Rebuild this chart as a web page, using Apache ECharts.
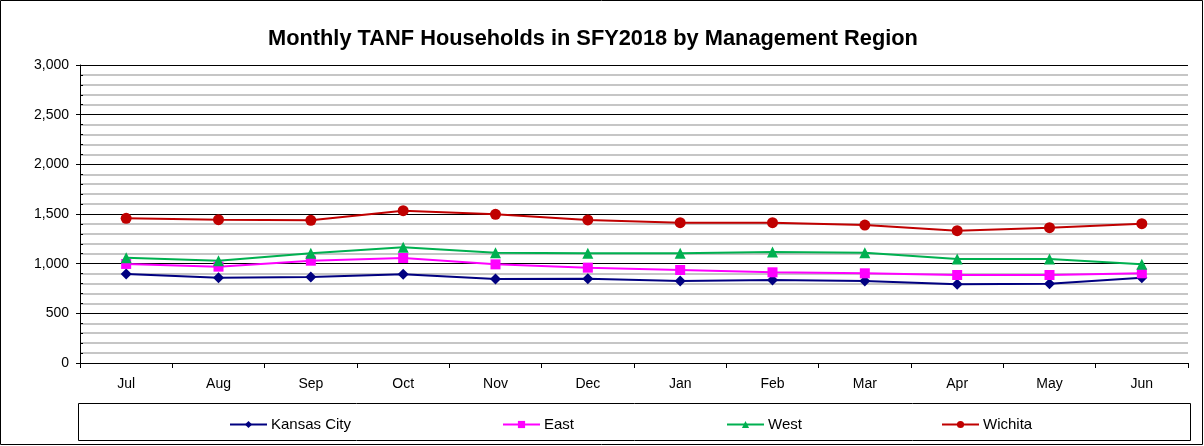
<!DOCTYPE html>
<html>
<head>
<meta charset="utf-8">
<script src="https://cdn.jsdelivr.net/npm/echarts@6/dist/echarts.min.js"></script>
<style>
  html, body { margin: 0; padding: 0; background: #fff; }
  #chart { width: 1204px; height: 446px; }
</style>
</head>
<body>
<div id="chart"></div>
<script>
const months = ["Jul", "Aug", "Sep", "Oct", "Nov", "Dec", "Jan", "Feb", "Mar", "Apr", "May", "Jun"];
const kansasCity = [896, 859, 866, 893, 846, 849, 826, 836, 826, 792, 799, 859];
const east = [997, 970, 1030, 1057, 993, 960, 936, 913, 903, 886, 886, 903];
const west = [1060, 1030, 1104, 1165, 1110, 1104, 1104, 1117, 1110, 1047, 1047, 993];
const wichita = [1456, 1443, 1436, 1533, 1497, 1440, 1413, 1413, 1389, 1332, 1362, 1402];

const chart = echarts.init(document.getElementById("chart"));
const font = "Liberation Sans, Arial, sans-serif";

function makeSeries(name, data, color, symbol, size) {
    return {
        name: name,
        type: "line",
        data: data,
        symbol: symbol,
        symbolSize: size,
        lineStyle: { color: color, width: 2 },
        itemStyle: { color: color },
        animation: false
    };
}

function makeLegend(name, left) {
    return {
        data: [name],
        left: left,
        top: 412,
        itemWidth: 37,
        itemHeight: 9,
        itemGap: 4,
        textStyle: { fontFamily: font, fontSize: 15, color: "#000", padding: [0, 0, 0, -1] }
    };
}

const option = {
    animation: false,
    title: {
        text: "Monthly TANF Households in SFY2018 by Management Region",
        left: 263,
        top: 23,
        textStyle: { fontFamily: font, fontSize: 21.8, fontWeight: "bold", color: "#000" }
    },
    graphic: [
        { type: "rect", shape: { x: 0.5, y: 0.5, width: 1202, height: 444 },
          style: { fill: null, stroke: "#000", lineWidth: 1 } },
        { type: "rect", shape: { x: 78.5, y: 403.5, width: 1112, height: 37 },
          style: { fill: null, stroke: "#000", lineWidth: 1 } }
    ],
    legend: [
        makeLegend("Kansas City", 224),
        makeLegend("East", 497),
        makeLegend("West", 721),
        makeLegend("Wichita", 936)
    ],
    grid: { left: 80, right: 16, top: 65, bottom: 83 },
    xAxis: {
        type: "category",
        data: months,
        boundaryGap: true,
        axisLine: { lineStyle: { color: "#000" } },
        axisTick: { show: true, length: 5, lineStyle: { color: "#000" } },
        axisLabel: { fontFamily: font, fontSize: 14, color: "#000", margin: 14 }
    },
    yAxis: [
        {
            type: "value",
            min: 0,
            max: 3000,
            interval: 500,
            axisLine: { show: true, lineStyle: { color: "#000" } },
            axisTick: { show: true, length: 4, lineStyle: { color: "#000" } },
            splitLine: { lineStyle: { color: "#000", width: 1 } },
            minorTick: { show: false, splitNumber: 5 },
            minorSplitLine: { show: true, lineStyle: { color: "#b4b4b4", width: 1.5 } },
            axisLabel: {
                fontFamily: font, fontSize: 14, color: "#000", margin: 11,
                formatter: function (v) { return v.toLocaleString("en-US"); }
            }
        },
        {
            type: "value",
            position: "left",
            min: 0,
            max: 3000,
            interval: 500,
            axisLine: { show: false },
            axisTick: { show: true, inside: true, length: 4, lineStyle: { color: "#000" } },
            minorTick: { show: true, splitNumber: 5, length: 3, lineStyle: { color: "#000" } },
            splitLine: { show: false },
            axisLabel: { show: false }
        }
    ],
    series: [
        makeSeries("Kansas City", kansasCity, "#000080", "diamond", 11),
        makeSeries("East", east, "#ff00ff", "rect", 10),
        makeSeries("West", west, "#00b050", "triangle", 11),
        makeSeries("Wichita", wichita, "#c00000", "circle", 11)
    ]
};

chart.setOption(option);
</script>
</body>
</html>
